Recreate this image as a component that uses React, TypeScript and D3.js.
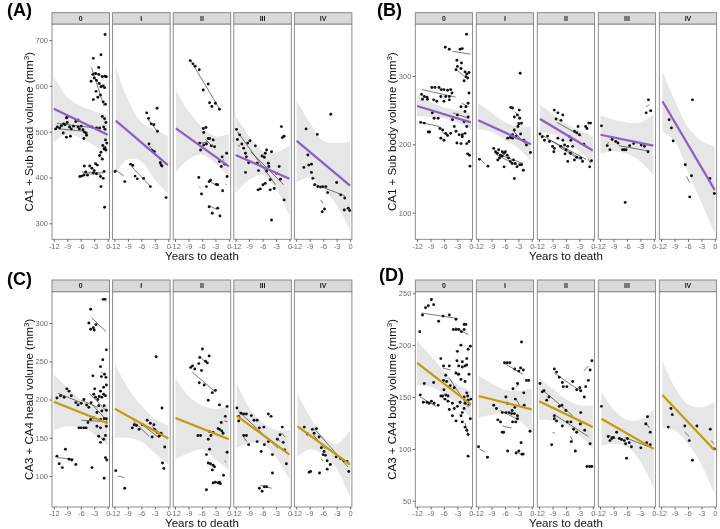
import React, { useEffect, useRef } from 'react';
import * as d3 from 'd3';

const FONT = 'Liberation Sans, Arial, Helvetica, sans-serif';

const stages = ['0', 'I', 'II', 'III', 'IV'];
const xTicks = [-12, -9, -6, -3, 0];
const bandX = [-12, -9, -6, -3, 0];

// ---------- (A) CA1 + Sub head ----------
const aTicks = [300, 400, 500, 600, 700];
const aPoints: number[][][] = [
 [[-11.6,506],[-11.2,510],[-10.7,508],[-10.3,513],[-9.8,517],[-9.5,515],[-9.2,530],[-9.0,532],[-8.5,510],[-8.1,506],[-7.6,512],[-7.1,522],[-6.6,510],[-6.3,506],[-5.9,512],[-5.5,504],[-5.2,499],[-4.8,497],[-4.7,492],[-9.9,497],[-9.2,488],[-8.3,490],[-5.3,485],[-6.6,525],[-9.0,520],
 [-3.2,660],[-1.5,668],[-2.0,640],[-3.3,625],[-2.7,627],[-2.0,625],[-1.2,620],[-0.6,621],[-3.7,610],[-3.0,617],[-2.5,612],[-1.9,605],[-1.5,598],[-1.0,600],[-0.7,596],[-3.2,570],[-2.2,575],[-1.6,580],[-1.0,565],[-0.5,560],[-2.6,588],[-0.6,712],[-0.3,620],
 [-1.2,533],[-0.7,528],[-0.4,520],[-0.6,505],[-0.9,510],[-1.8,508],[-2.5,508],[-3.5,510],[-1.1,470],[-0.6,465],[-0.4,460],[-0.8,462],[-1.5,455],[-1.2,440],[-1.8,448],[-0.5,482],[-0.2,475],
 [-6.2,402],[-5.8,403],[-5.3,405],[-4.5,405],[-4.0,425],[-3.5,420],[-3.0,415],[-2.7,430],[-2.3,427],[-3.2,410],[-2.5,408],[-1.6,402],[-1.0,398],[-4.9,412],[-5.2,425],[-1.5,380],[-0.7,335],[-0.8,413]],
 [[-11.85,413],[-9.7,391],[-8.4,429],[-7.9,426],[-7.4,403],[-6.9,397],[-5.5,398],[-4.0,380],[-4.8,541],[-2.5,551],[-4.4,529],[-3.8,517],[-3.2,515],[-2.4,501],[-4.3,473],[-3.6,459],[-3.1,456],[-1.8,432],[-1.6,427],[-1.4,425],[-0.5,356]],
 [[-8.6,655],[-8.0,648],[-7.5,643],[-6.6,635],[-5.7,591],[-4.6,604],[-4.3,563],[-3.8,555],[-3.0,562],[-2.1,549],
 [-5.7,507],[-5.1,509],[-5.6,498],[-6.5,475],[-6.3,460],[-5.0,473],[-4.6,485],[-4.3,485],[-3.9,469],[-3.5,482],[-5.6,471],[-3.2,467],[-2.1,435],[-1.5,445],[-1.7,424],[-0.9,429],[-0.5,453],[-0.4,402],
 [-6.7,400],[-6.1,364],[-5.0,380],[-4.4,391],[-4.1,394],[-2.8,385],[-2.5,384],[-1.4,371],[-4.4,336],[-3.7,322],[-2.5,333],[-2.0,316]],
 [[-11.8,505],[-11.6,483],[-11.1,493],[-10.6,473],[-10.2,464],[-9.8,453],[-9.6,445],[-9.3,475],[-9.8,411],[-9.1,432],[-8.8,480],[-7.6,469],[-7.2,431],[-6.9,415],[-6.1,447],[-5.6,444],[-5.4,453],[-5.1,460],[-4.7,431],[-4.6,424],[-5.1,414],[-7.0,373],[-6.5,375],[-5.9,384],[-5.4,387],[-4.3,373],[-3.4,376],[-4.3,395],[-4.0,456],[-2.9,409],[-2.0,396],[-1.2,351],[-2.3,424],[-1.8,511],[-1.2,490],[-1.6,487],[-4.0,307]],
 [[-9.8,506],[-10.3,422],[-9.4,449],[-9.2,427],[-8.6,429],[-7.3,494],[-8.6,411],[-8.3,398],[-7.9,384],[-7.2,380],[-6.6,379],[-6.1,380],[-5.4,380],[-5.0,367],[-6.2,325],[-5.7,331],[-3.0,389],[-4.3,538],[-2.1,362],[-1.2,355],[-1.3,329],[-0.4,333],[-0.1,328]],
];
const aSegs: number[][][] = [
 [[-11.3,518,-3.5,509],[-10.8,506,-5.3,501],[-3.6,640,-0.8,555],[-3.2,628,-0.5,620],[-3.0,617,-1.0,596],[-5.8,412,-1.0,410],[-5.5,408,-1.5,407],[-1.2,470,-0.8,462],[-1.5,445,-1.0,440]],
 [[-11.8,417,-9.9,403],[-8.2,424,-4.0,381],[-4.6,528,-2.4,500],[-4.2,468,-3.0,456],[-1.8,435,-1.3,424]],
 [[-8.5,655,-2.0,548],[-5.2,483,-3.7,468],[-6.2,475,-4.7,478],[-4.3,392,-2.8,383],[-4.4,338,-2.6,330],[-6.6,379,-6.3,377],[-0.8,386,-0.5,384],[-1.4,440,-1.0,437]],
 [[-11.6,500,-3.1,384],[-8.6,456,-1.3,384],[-1.6,492,-1.2,487],[-11.5,470,-11.0,468]],
 [[-8.0,386,-1.2,360],[-6.6,351,-6.0,343],[-1.0,330,-0.5,334]],
];
const aFits = [[-12,550,0,493],[-11.7,524,-0.1,427],[-11.8,507,0,424],[-12,449,0,397],[-11.9,480,0,382]];
const aLower = [[478,495,486,470,452],[410,440,435,395,365],[412,440,450,430,400],[365,395,405,375,315],[390,400,375,340,285]];
const aUpper = [[622,575,556,545,535],[642,570,520,505,490],[590,545,510,490,495],[535,490,458,455,470],[567,520,480,475,478]];

// ---------- (B) CA1 + Sub body ----------
const bTicks = [100, 200, 300];
const bPoints: number[][][] = [
 [[-0.96,361],[-5.7,342],[-4.8,339],[-2.4,339],[-1.9,340],[-3.1,323],[-2.1,319],[-3.0,314],[-2.2,311],[-3.3,309],[-1.3,306],[-0.9,303],[-0.4,305],[-1.1,299],[-0.7,297],[-1.5,293],
 [-11.0,273],[-10.4,270],[-9.8,269],[-8.7,283],[-8.0,283],[-7.1,283],[-6.6,280],[-6.0,280],[-5.2,279],[-4.5,280],[-4.2,275],[-5.6,270],[-4.8,265],[-6.0,263],[-6.7,270],[-7.6,263],[-8.3,265],[-9.7,266],[-10.8,266],
 [-11.2,232],[-10.4,231],[-9.5,218],[-9.2,218],[-8.6,246],[-8.2,238],[-7.3,238],[-6.9,223],[-6.3,221],[-5.6,216],[-5.2,213],[-4.5,216],[-3.7,226],[-4.1,236],[-3.0,243],[-3.3,219],[-2.6,214],[-3.1,202],[-2.2,201],[-1.9,214],[-1.5,233],[-0.9,226],[-0.6,240],[-1.3,248],[-2.2,255],[-0.9,201],[-0.4,204],[-0.3,184],[-0.7,186],[-0.2,168],[-1.1,255],[-0.4,275],[-0.6,260],[-1.9,211],[-1.3,216],[-6.7,209],[-6.0,206],[-4.8,270]],
 [[-11.7,178],[-9.8,168],[-8.5,194],[-8.1,189],[-7.7,187],[-7.4,192],[-7.0,184],[-6.6,189],[-6.2,187],[-5.9,189],[-5.5,184],[-7.2,180],[-7.6,177],[-6.6,183],[-6.2,167],[-5.2,180],[-4.8,175],[-4.4,172],[-4.1,177],[-3.7,172],[-3.3,167],[-2.7,170],[-2.3,170],[-1.9,162],[-3.9,150],[-2.6,304],[-4.7,254],[-4.3,253],[-3.9,240],[-3.2,243],[-2.7,238],[-2.3,231],[-3.1,226],[-3.9,221],[-4.3,214],[-4.8,210],[-5.4,209],[-4.3,209],[-3.5,212],[-2.5,215],[-1.8,206],[-1.2,199],[-0.3,188],[-2.8,250],[-2.9,230]],
 [[-11.8,215],[-11.3,211],[-10.8,206],[-10.1,212],[-9.7,204],[-9.0,197],[-8.6,194],[-8.7,189],[-7.8,209],[-8.2,237],[-8.6,250],[-7.8,246],[-7.1,235],[-6.7,243],[-7.2,197],[-6.7,206],[-6.3,199],[-6.0,192],[-5.6,197],[-5.2,211],[-4.9,206],[-4.5,197],[-4.1,219],[-3.6,217],[-3.3,226],[-3.0,214],[-5.0,187],[-4.1,177],[-3.6,181],[-2.7,180],[-2.3,175],[-2.0,200],[-1.6,226],[-1.3,223],[-0.9,231],[-0.5,231],[-0.7,167],[-0.3,176],[-5.6,175],[-6.2,186]],
 [[-11.7,227],[-10.4,198],[-9.8,192],[-9.3,207],[-8.5,204],[-8.0,202],[-7.0,192],[-6.6,192],[-6.2,192],[-6.4,115],[-5.4,198],[-4.5,201],[-2.8,199],[-2.1,197],[-1.3,189],[-1.7,246],[-1.2,265],[-0.7,249]],
 [[-10.2,236],[-9.7,224],[-9.3,205],[-6.6,170],[-5.0,265],[-5.2,154],[-5.6,123],[-1.1,150],[-0.1,128]],
];
const bSegs: number[][][] = [
 [[-10.9,280,-3.4,269],[-11.2,232,-7.0,226],[-6.5,218,-4.8,212],[-4.1,336,-0.1,332],[-3.0,308,-1.5,300],[-2.0,260,-0.5,255],[-4.0,246,-0.5,238]],
 [[-11.7,180,-10.6,172],[-8.2,186,-3.0,168],[-6.5,183,-2.0,172],[-4.2,220,-1.2,199],[-3.8,248,-2.8,240],[-3.2,232,-2.2,228]],
 [[-8.0,232,-2.5,212],[-11.2,213,-2.0,176],[-9.5,206,-1.5,178],[-7.5,196,-3.0,178],[-1.0,178,-0.5,172]],
 [[-10.5,200,-10.0,203],[-7.8,198,-1.0,190],[-1.7,255,-1.0,258]],
 [[-6.3,153,-5.6,144]],
];
const bFits = [[-12,256,0,232],[-12,235,-0.2,200],[-11.8,237,0,191],[-11.9,214,-0.1,198],[-11.7,263,0,133]];
const bLower = [[241,240,238,232,222],[222,218,206,194,176],[217,215,205,190,170],[186,190,186,175,155],[218,205,160,115,70]];
const bUpper = [[272,262,254,250,246],[260,246,232,226,226],[258,245,230,220,212],[242,236,232,232,243],[307,265,225,205,197]];

// ---------- (C) CA3 + CA4 head ----------
const cTicks = [100, 150, 200, 250, 300];
const cPoints: number[][][] = [
 [[-0.6,331],[-3.8,318],[-4.2,300],[-3.8,292],[-3.2,294],[-2.6,298],[-3.0,291],[-1.0,331],
 [-0.3,265],[-1.1,252],[-1.6,243],[-0.7,233],[-0.4,229],[-1.4,230],
 [-11.3,202],[-10.5,205],[-9.7,203],[-9.1,214],[-8.6,211],[-8.1,205],[-7.1,196],[-6.6,193],[-5.9,195],[-5.3,200],[-4.7,193],[-4.2,190],[-3.7,196],[-3.1,207],[-2.7,203],[-2.2,200],[-1.9,204],[-1.3,203],[-0.9,207],[-0.5,205],[-0.3,219],[-0.9,216],[-1.6,211],[-3.3,231],[-2.9,214],[-2.0,192],[-2.4,183],[-1.3,185],[-0.8,192],[-0.3,186],[-3.8,174],[-3.1,176],[-1.6,174],[-0.8,175],[-0.3,175],[-6.4,163],[-5.9,163],[-5.3,163],[-4.8,163],[-4.4,170],[-2.0,152],[-1.6,144],[-0.9,148],[-0.5,153],[-0.3,165],[-1.6,163],[-2.4,165],[-0.5,124],[-0.2,121],[-0.8,97],[-3.5,111],
 [-11.3,126],[-10.8,116],[-10.1,111],[-9.4,135],[-8.6,122],[-8.0,121],[-7.1,115]],
 [[-11.7,107],[-9.7,84],[-8.0,163],[-7.6,167],[-7.1,166],[-6.5,161],[-5.8,167],[-4.7,173],[-4.0,169],[-3.2,167],[-3.1,161],[-2.5,157],[-1.9,153],[-1.6,156],[-2.1,152],[-2.7,256],[-1.4,189],[-0.8,138],[-1.3,117],[-1.0,110],[-3.6,151]],
 [[-5.9,266],[-6.5,255],[-5.2,250],[-4.8,248],[-4.4,257],[-8.5,242],[-8.1,244],[-7.6,240],[-6.7,247],[-6.1,238],[-6.6,222],[-5.5,219],[-3.0,212],[-3.7,209],[-4.6,199],[-2.1,193],[-0.4,191],[-0.8,178],[-1.7,170],[-2.1,161],[-1.6,159],[-2.4,162],[-3.5,157],[-4.3,158],[-4.0,153],[-6.9,153],[-6.3,153],[-4.6,148],[-4.3,135],[-5.0,128],[-4.6,117],[-4.1,116],[-3.5,114],[-3.2,112],[-3.7,108],[-5.0,82],[-3.5,91],[-3.0,92],[-2.4,91],[-2.1,92],[-1.9,90],[-1.2,101],[-0.4,131],[-1.3,156]],
 [[-11.7,189],[-11.3,178],[-11.3,172],[-10.8,182],[-10.2,181],[-9.6,181],[-10.2,153],[-9.6,153],[-9.1,141],[-8.5,179],[-7.9,173],[-7.2,173],[-6.7,163],[-7.2,145],[-6.3,132],[-5.6,141],[-5.7,164],[-4.7,181],[-4.1,178],[-4.7,145],[-3.8,128],[-3.8,104],[-2.7,148],[-2.1,154],[-1.6,164],[-1.4,144],[-1.1,134],[-0.7,116],[-6.7,84],[-6.1,80],[-5.6,86],[-5.1,86]],
 [[-10.2,164],[-9.5,155],[-8.4,161],[-7.5,162],[-8.0,156],[-6.9,151],[-6.4,137],[-6.0,128],[-5.8,132],[-5.5,127],[-5.1,120],[-4.4,115],[-5.1,109],[-3.1,125],[-2.1,123],[-1.4,120],[-0.7,119],[-0.3,106],[-9.1,105],[-8.8,106],[-6.8,104]],
];
const cSegs: number[][][] = [
 [[-11.0,208,-5.9,196],[-5.9,199,-2.3,190],[-4.1,208,-0.1,184],[-5.9,173,-0.1,171],[-3.7,195,-0.1,172],[-3.6,307,-0.4,289],[-11.2,124,-7.5,122],[-1.5,236,-0.8,233],[-1.5,150,-0.8,146]],
 [[-11.2,100,-9.8,98],[-7.8,172,-4.3,152],[-6.0,168,-2.5,152],[-3.6,165,-2.2,158]],
 [[-8.2,236,-3.0,210],[-6.5,256,-5.0,248],[-4.8,118,-3.3,112],[-3.8,92,-2.0,91],[-1.0,172,-0.3,171],[-1.0,120,-0.6,118]],
 [[-11.4,185,-2.5,136],[-10.2,151,-9.5,145],[-6.5,88,-4.0,84],[-2.8,150,-2.1,145],[-1.7,156,-1.0,151]],
 [[-8.0,162,-0.5,112],[-6.5,122,-6.0,120],[-8.2,154,-5.5,135]],
];
const cFits = [[-12,197,0,169],[-11.9,188,0,149],[-11.9,176,0,148],[-11.8,179,0,128],[-11.7,165,0,115]];
const cLower = [[160,165,163,155,140],[150,150,145,130,115],[122,130,135,122,108],[137,143,142,125,95],[125,135,128,110,72]];
const cUpper = [[233,215,200,190,195],[247,215,192,175,166],[228,205,192,188,192],[222,190,170,160,160],[208,178,152,142,160]];

// ---------- (D) CA3 + CA4 body ----------
const dTicks = [50, 100, 150, 200, 250];
const dPoints: number[][][] = [
 [[-11.4,213],[-10.8,229],[-10.1,236],[-9.5,238],[-8.8,244],[-8.3,239],[-7.2,223],[-6.2,228],[-4.8,229],[-3.3,225],[-3.9,215],[-3.3,215],[-2.7,215],[-2.1,213],[-1.5,220],[-1.1,220],[-1.5,215],[-2.2,200],[-3.0,194],[-3.1,185],[-1.9,184],[-2.7,180],[-1.9,179],[-0.9,187],[-0.6,196],[-0.1,199],[-0.9,181],[-1.3,180],[-0.4,172],
 [-6.7,187],[-6.1,180],[-4.8,180],[-5.6,171],[-5.4,165],[-3.7,159],[-3.3,173],[-2.7,172],[-2.2,167],[-1.3,165],[-10.4,163],[-6.1,166],[-6.0,157],[-4.6,161],[-6.3,151],[-5.8,148],[-5.1,146],[-4.1,144],[-3.7,139],[-3.0,141],[-2.4,145],[-1.5,150],[-0.9,154],[-0.7,151],[-0.6,147],[-0.4,143],[0.0,148],[-1.3,144],[-1.5,139],[-1.9,135],[-2.2,132],[-1.9,126],[-1.3,121],[-0.9,118],[-0.6,114],[-0.1,129],[-4.1,132],[-3.3,127],[-4.8,138],
 [-11.3,152],[-10.6,145],[-9.8,145],[-9.3,144],[-8.8,146],[-8.2,144],[-7.3,142],[-6.7,151],[-8.3,164],[-0.6,93],[-5.6,152],[-5.1,151]],
 [[-11.9,102],[-9.9,92],[-8.5,142],[-7.9,139],[-7.6,128],[-7.0,126],[-6.6,116],[-6.3,116],[-6.1,183],[-5.5,183],[-4.9,183],[-5.8,150],[-6.6,135],[-5.8,135],[-5.1,135],[-4.5,134],[-3.9,134],[-3.2,132],[-4.3,126],[-3.6,126],[-3.2,129],[-4.4,137],[-3.8,140],[-3.7,148],[-4.2,158],[-3.2,163],[-2.5,178],[-3.8,177],[-2.9,175],[-2.3,203],[-1.9,176],[-1.2,166],[-0.7,166],[-1.8,154],[-0.4,117],[-2.4,106],[-3.5,96],[-2.9,98],[-2.2,95],[-1.9,95],[-1.7,142],[-5.4,98],[-5.5,144]],
 [[-11.8,163],[-11.3,155],[-10.9,156],[-10.3,147],[-9.8,150],[-8.6,177],[-8.1,174],[-7.5,169],[-6.8,164],[-6.6,160],[-5.8,160],[-4.5,165],[-3.6,157],[-2.9,159],[-1.9,150],[-1.6,160],[-1.0,166],[-0.6,176],[-0.2,185],[-7.5,141],[-6.9,142],[-8.6,132],[-8.6,129],[-8.1,127],[-6.8,122],[-6.0,137],[-5.7,126],[-4.9,126],[-4.3,119],[-3.6,116],[-2.8,124],[-2.7,135],[-1.8,118],[-0.6,105],[-1.3,83],[-0.7,83],[-0.2,83],[-9.2,104],[-4.8,107],[-3.9,98],[-2.7,156]],
 [[-11.7,141],[-10.2,112],[-9.8,108],[-9.4,110],[-9.0,111],[-8.3,116],[-7.7,110],[-7.2,109],[-6.6,108],[-6.3,105],[-5.9,110],[-5.5,106],[-5.0,102],[-6.1,91],[-2.9,101],[-1.8,124],[-1.4,131],[-0.8,116],[-0.8,104],[-1.6,106]],
 [[-10.4,121],[-9.8,139],[-9.5,133],[-6.7,122],[-5.7,108],[-5.0,89],[-4.0,122],[-1.0,119],[-0.1,100]],
];
const dSegs: number[][][] = [
 [[-11.0,231,-3.5,226],[-3.5,217,-0.5,210],[-6.3,178,-4.5,176],[-4.8,168,-0.5,140],[-11.3,150,-7.8,141],[-6.5,150,-4.5,145],[-3.5,175,-2.8,170],[-1.3,125,-0.5,112]],
 [[-11.7,100,-10.5,97],[-6.0,182,-2.0,172],[-7.0,137,-3.0,128],[-6.5,122,-4.5,120],[-3.5,98,-2.0,93],[-3.5,160,-2.8,162],[-3.5,148,-2.5,140]],
 [[-8.6,173,-2.5,155],[-11.3,157,-4.5,132],[-8.6,133,-1.0,112],[-2.0,175,-1.0,180],[-9.0,116,-8.5,115],[-5.0,112,-4.5,108]],
 [[-10.0,113,-8.5,110],[-6.5,111,-0.5,101],[-1.8,126,-1.0,120]],
 [[-6.7,116,-5.7,112],[-0.9,108,-0.1,105]],
];
const dFits = [[-12,183,0,143],[-11.9,151,0,138],[-12,146,0,121],[-11.7,129,0,100],[-11.7,152,-0.1,99]];
const dLower = [[161,160,153,143,130],[130,133,134,128,116],[128,127,122,113,100],[103,105,102,88,62],[120,118,105,85,57]];
const dUpper = [[204,190,175,162,156],[171,163,157,156,158],[168,158,148,142,142],[155,138,128,128,138],[185,160,143,140,145]];

const PURPLE = '#8b5dc6';
const GOLD = '#c49a0b';

const panels = [
 { label: '(A)', title: 'CA1 + Sub head volume', color: PURPLE, yDomain: [265, 735], yTicks: aTicks,
 points: aPoints, segs: aSegs, fits: aFits, lower: aLower, upper: aUpper,
 left: 52, w: 57.5, step: 60.6, stripTop: 12.7, top: 24, bottom: 239.3, labelX: 7, labelY: 16, titleX: 33, xTitleY: 260 },
 { label: '(B)', title: 'CA1 + Sub body volume', color: PURPLE, yDomain: [61, 376], yTicks: bTicks,
 points: bPoints, segs: bSegs, fits: bFits, lower: bLower, upper: bUpper,
 left: 415.3, w: 57.3, step: 61, stripTop: 12.7, top: 24, bottom: 239.3, labelX: 377, labelY: 16, titleX: 396, xTitleY: 260 },
 { label: '(C)', title: 'CA3 + CA4 head volume', color: GOLD, yDomain: [59.5, 341], yTicks: cTicks,
 points: cPoints, segs: cSegs, fits: cFits, lower: cLower, upper: cUpper,
 left: 52, w: 57.5, step: 60.6, stripTop: 280, top: 291.7, bottom: 507, labelX: 7, labelY: 285, titleX: 33, xTitleY: 527 },
 { label: '(D)', title: 'CA3 + CA4 body volume', color: GOLD, yDomain: [44, 251.5], yTicks: dTicks,
 points: dPoints, segs: dSegs, fits: dFits, lower: dLower, upper: dUpper,
 left: 415.3, w: 57.3, step: 61, stripTop: 280, top: 291.7, bottom: 507, labelX: 379, labelY: 281, titleX: 396, xTitleY: 527 },
];

type Panel = typeof panels[number];

function drawPanel(svg: d3.Selection<SVGSVGElement, unknown, null, undefined>, p: Panel) {
 const g = svg.append('g');
 const y = d3.scaleLinear().domain(p.yDomain).range([p.bottom, p.top]);

 g.append('text').attr('x', p.labelX).attr('y', p.labelY).text(p.label)
 .attr('font-family', FONT).attr('font-weight', 'bold').attr('font-size', 18).attr('fill', '#000');

 stages.forEach((s, i) => {
 const left = p.left + i * p.step;
 const x = d3.scaleLinear().domain([-12.4, 0.4]).range([left, left + p.w]);
 const fg = g.append('g');

 fg.append('rect').attr('x', left).attr('y', p.top).attr('width', p.w).attr('height', p.bottom - p.top).attr('fill', '#fff');

 // confidence band
 const fit = p.fits[i];
 const lo = p.lower[i];
 const hi = p.upper[i];
 const bx = bandX.map((v, k) => (k === 0 ? fit[0] : k === bandX.length - 1 ? fit[2] : v));
 const area = d3.area<number>()
 .x((d) => x(d))
 .y0((_, k) => y(lo[k]))
 .y1((_, k) => y(hi[k]))
 .curve(d3.curveCatmullRom.alpha(0.5));
 fg.append('path').attr('d', area(bx) as string).attr('fill', '#e6e6e6');

 // subject trajectories
 fg.selectAll('line.seg').data(p.segs[i]).join('line').attr('class', 'seg')
 .attr('x1', (d) => x(d[0])).attr('y1', (d) => y(d[1]))
 .attr('x2', (d) => x(d[2])).attr('y2', (d) => y(d[3]))
 .attr('stroke', '#222').attr('stroke-width', 0.6);

 fg.selectAll('circle').data(p.points[i]).join('circle')
 .attr('cx', (d) => x(d[0])).attr('cy', (d) => y(d[1])).attr('r', 1.45).attr('fill', '#111');

 fg.append('line')
 .attr('x1', x(fit[0])).attr('y1', y(fit[1])).attr('x2', x(fit[2])).attr('y2', y(fit[3]))
 .attr('stroke', p.color).attr('stroke-width', 2.2);

 fg.append('rect').attr('x', left).attr('y', p.top).attr('width', p.w).attr('height', p.bottom - p.top)
 .attr('fill', 'none').attr('stroke', '#808080').attr('stroke-width', 0.9);

 // strip
 fg.append('rect').attr('x', left).attr('y', p.stripTop).attr('width', p.w).attr('height', p.top - p.stripTop)
 .attr('fill', '#d9d9d9').attr('stroke', '#808080').attr('stroke-width', 0.9);
 fg.append('text').attr('x', left + p.w / 2).attr('y', (p.stripTop + p.top) / 2 + 2.5).text(s)
 .attr('text-anchor', 'middle').attr('font-family', FONT).attr('font-weight', 'bold').attr('font-size', 7).attr('fill', '#1a1a1a');

 const ax = fg.append('g').attr('transform', `translate(0,${p.bottom})`)
 .call(d3.axisBottom(x).tickValues(xTicks).tickSize(2.5).tickPadding(1.5).tickFormat((d) => String(d)));
 ax.select('.domain').remove();
 ax.selectAll('line').attr('stroke', '#666');
 ax.selectAll('text').attr('fill', '#6b6b6b').attr('font-size', 7.5).attr('font-family', FONT);

 if (i === 0) {
 const ay = fg.append('g').attr('transform', `translate(${left},0)`)
 .call(d3.axisLeft(y).tickValues(p.yTicks).tickSize(2.5).tickPadding(1.5).tickFormat((d) => String(d)));
 ay.select('.domain').remove();
 ay.selectAll('line').attr('stroke', '#666');
 ay.selectAll('text').attr('fill', '#6b6b6b').attr('font-size', 7.5).attr('font-family', FONT);
 }
 });

 const plotRight = p.left + 4 * p.step + p.w;
 g.append('text').attr('x', (p.left + plotRight) / 2).attr('y', p.xTitleY).text('Years to death')
 .attr('text-anchor', 'middle').attr('font-family', FONT).attr('font-size', 11.5).attr('fill', '#111');

 const yt = g.append('text').attr('transform', `translate(${p.titleX},${(p.top + p.bottom) / 2}) rotate(-90)`)
 .attr('text-anchor', 'middle').attr('font-family', FONT).attr('font-size', 11.5).attr('fill', '#111');
 yt.append('tspan').text(`${p.title} (mm`);
 yt.append('tspan').attr('dy', -4).attr('font-size', 8).text('3');
 yt.append('tspan').attr('dy', 4).text(')');
}

export default function App() {
 const svgRef = useRef<SVGSVGElement>(null);

 useEffect(() => {
 if (!svgRef.current) return;
 const svg = d3.select(svgRef.current);
 svg.selectAll('*').remove();
 svg.append('rect').attr('width', 720).attr('height', 529).attr('fill', '#fff');
 panels.forEach((p) => drawPanel(svg, p));
 }, []);

 return (
 <svg ref={svgRef} width={720} height={529} viewBox="0 0 720 529"
 style={{ position: 'absolute', left: 0, top: 0, display: 'block', willChange: 'transform' }} />
 );
}
